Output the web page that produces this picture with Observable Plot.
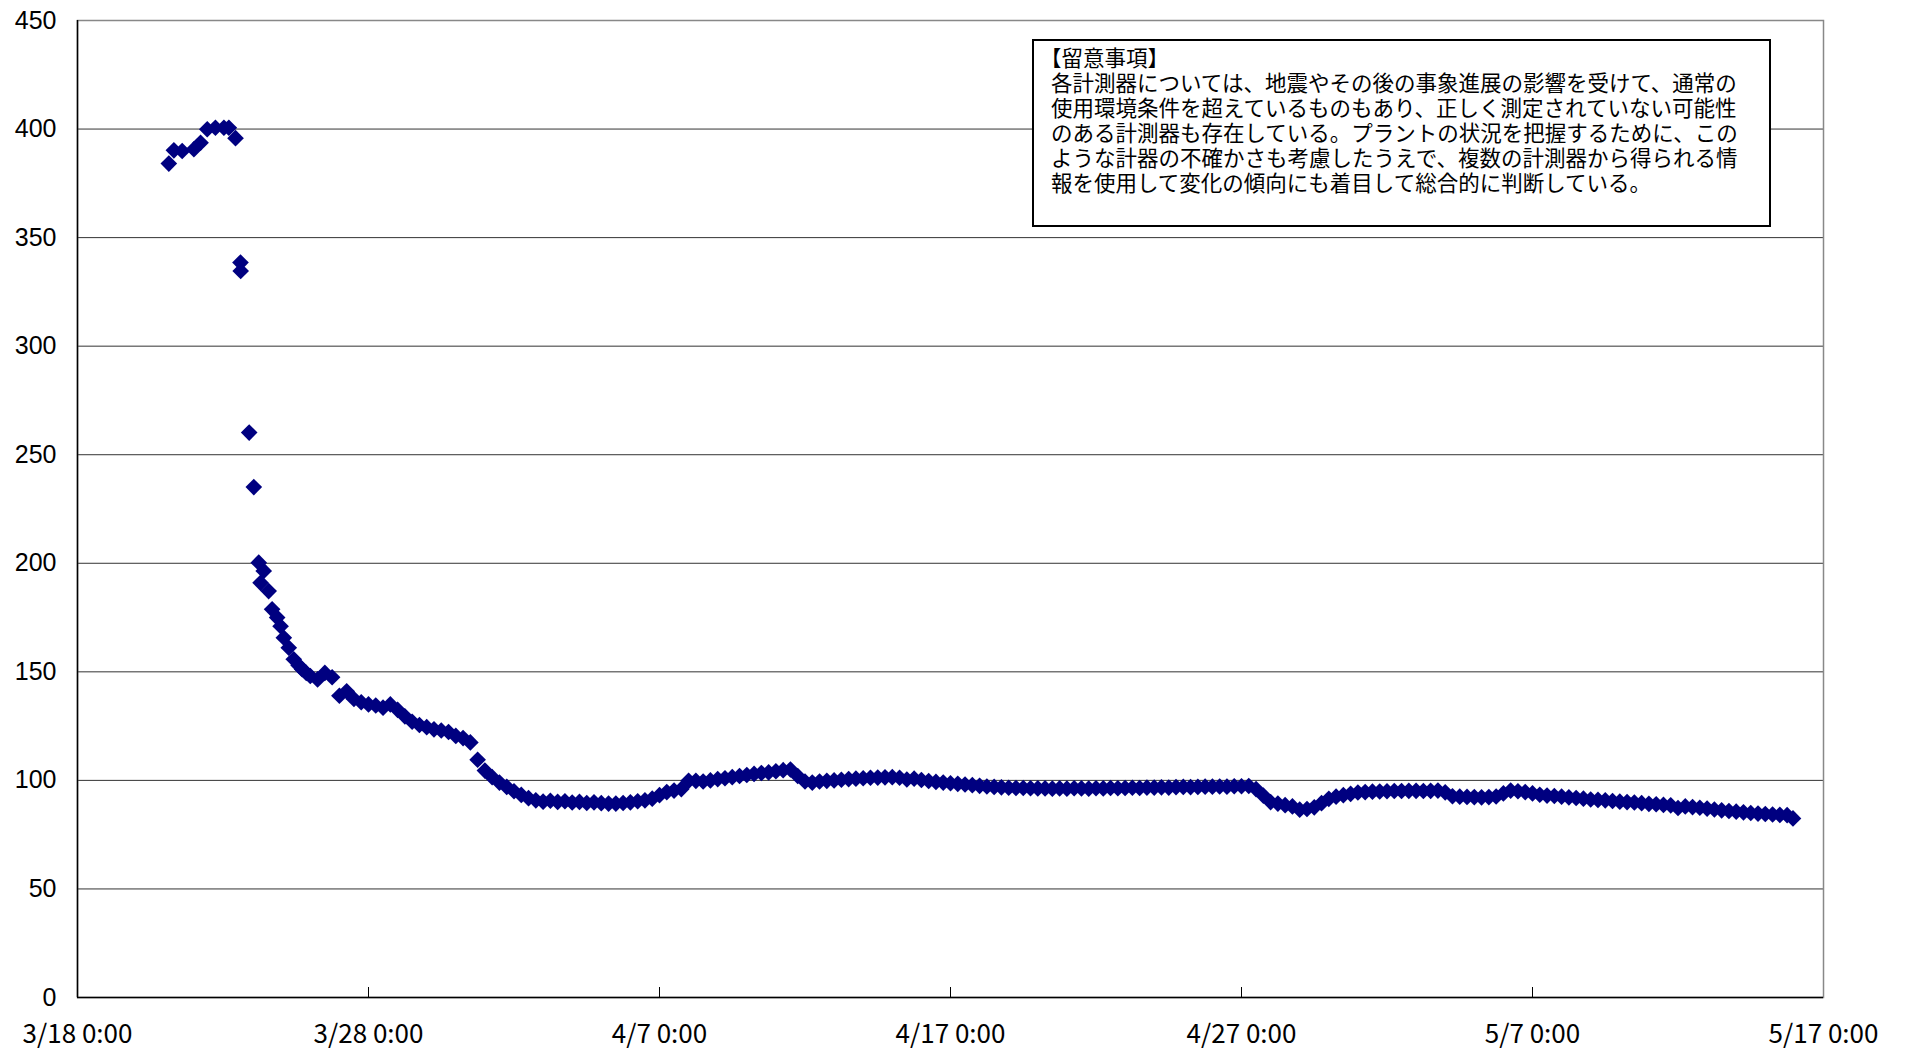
<!DOCTYPE html>
<html>
<head>
<meta charset="utf-8">
<script src="https://cdn.jsdelivr.net/npm/d3@7"></script>
<script src="https://cdn.jsdelivr.net/npm/@observablehq/plot@0.6"></script>
<style>
  html, body { margin: 0; padding: 0; background: #fff; }
  #wrap { position: relative; width: 1908px; height: 1051px; overflow: hidden; }
  #note {
    position: absolute; left: 1032px; top: 39px; width: 735px; height: 184px;
    border: 2px solid #000; background: #fff; box-sizing: content-box;
    font-family: "Noto Sans CJK JP", sans-serif; font-size: 21.5px; line-height: 25px;
    color: #000;
  }
  #note .text { position: absolute; left: 17px; top: 3px; white-space: pre; text-indent: -11px; }
</style>
</head>
<body>
<div id="wrap">
  <div id="chart"></div>
  <div id="note"><div class="text"></div></div>
</div>
<script>
// ---- data ----
const noteTitle = "【留意事項】";
const noteLines = [
  "各計測器については、地震やその後の事象進展の影響を受けて、通常の",
  "使用環境条件を超えているものもあり、正しく測定されていない可能性",
  "のある計測器も存在している。プラントの状況を把握するために、この",
  "ような計器の不確かさも考慮したうえで、複数の計測器から得られる情",
  "報を使用して変化の傾向にも着目して総合的に判断している。"
];

const xTickDates = ["2011-03-18", "2011-03-28", "2011-04-07", "2011-04-17", "2011-04-27", "2011-05-07", "2011-05-17"];
const xTickLabels = ["3/18 0:00", "3/28 0:00", "4/7 0:00", "4/17 0:00", "4/27 0:00", "5/7 0:00", "5/17 0:00"];
const yTicks = [0, 50, 100, 150, 200, 250, 300, 350, 400, 450];

// sparse early readings
const earlyTimes = [
  "2011-03-21T03:20", "2011-03-21T07:30", "2011-03-21T14:20", "2011-03-22T00:00",
  "2011-03-22T05:30", "2011-03-22T11:00", "2011-03-22T17:45", "2011-03-23T00:45",
  "2011-03-23T04:50", "2011-03-23T10:20", "2011-03-23T14:25", "2011-03-23T14:35",
  "2011-03-23T21:35", "2011-03-24T01:25", "2011-03-24T05:30", "2011-03-24T07:00",
  "2011-03-24T09:35", "2011-03-24T13:40", "2011-03-24T16:30", "2011-03-24T20:40",
  "2011-03-24T23:30", "2011-03-25T02:10", "2011-03-25T06:15", "2011-03-25T10:20",
  "2011-03-25T14:20", "2011-03-25T17:15", "2011-03-25T20:40"
];
const earlyValues = [
  384.1, 390.2, 389.9, 390.7,
  393.7, 399.9, 400.6, 400.6,
  400.6, 395.8, 338.5, 334.6,
  260.2, 235.1, 200.3, 191,
  196.5, 187.2, 178.8, 175,
  171, 165.7, 161.1, 155.8,
  153, 151.2, 149.5
];

// readings every 6 hours from 3/26 0:00
const regularStart = "2011-03-26T00:00";
const regularStepHours = 6;
const regularValues = [
  148.1, 146.5, 149.5, 147.5,  // 3/26
  139, 141, 137.5, 136,        // 3/27
  135, 134.5, 133.5, 135,      // 3/28
  132.5, 129.5, 127, 125.5,    // 3/29
  124.5, 123.5, 123, 122.3,    // 3/30
  120.5, 119.5, 117.5, 109.5,  // 3/31
  104.5, 101.5, 99, 97,        // 4/1
  95, 93.3, 91.8, 90.8,        // 4/2
  90.2, 90.6, 90.1, 90.4,      // 4/3
  89.8, 90.1, 89.6, 89.9,      // 4/4
  89.5, 89.3, 89.3, 89.6,      // 4/5
  89.9, 90.4, 90.8, 91.6,      // 4/6
  93.2, 94.6, 95.3, 96,        // 4/7
  99.8, 99.8, 99.5, 100,       // 4/8
  100.6, 101, 101.5, 102,      // 4/9
  102.5, 103, 103.4, 103.7,    // 4/10
  104.2, 104.7, 105, 102,      // 4/11
  99.5, 99, 99.5, 99.8,        // 4/12
  100, 100.3, 100.6, 100.8,    // 4/13
  101, 101.2, 101.3, 101.4,    // 4/14
  101.5, 101.2, 100.4, 100.8,  // 4/15
  100.2, 99.7, 99.3, 99,       // 4/16
  98.7, 98.4, 98.1, 97.8,      // 4/17
  97.5, 97.2, 97, 96.8,        // 4/18
  96.6, 96.5, 96.5, 96.4,      // 4/19
  96.3, 96.3, 96.2, 96.3,      // 4/20
  96.2, 96.4, 96.3, 96.2,      // 4/21
  96.4, 96.3, 96.5, 96.4,      // 4/22
  96.5, 96.6, 96.5, 96.7,      // 4/23
  96.7, 96.8, 96.7, 96.9,      // 4/24
  97, 96.9, 97, 97.1,          // 4/25
  97.1, 97.2, 97.1, 97.3,      // 4/26
  97.3, 97.4, 96, 93,          // 4/27
  90, 89.3, 88.6, 88,          // 4/28
  86.5, 86.8, 87.6, 89.5,      // 4/29
  91.5, 92.5, 93.2, 93.8,      // 4/30
  94.4, 94.6, 94.8, 94.9,      // 5/1
  95, 95.1, 95.1, 95.2,        // 5/2
  95.2, 95.1, 95.2, 95.3,      // 5/3
  94.5, 92.7, 92.5, 92.4,      // 5/4
  92.3, 92.2, 92.3, 92.6,      // 5/5
  94, 95.3, 95, 94.6,          // 5/6
  94, 93.4, 93, 92.8,          // 5/7
  92.5, 92.2, 91.9, 91.6,      // 5/8
  91.2, 91, 90.8, 90.5,        // 5/9
  90.2, 90, 89.8, 89.5,        // 5/10
  89.2, 89, 88.7, 88.5,        // 5/11
  87.3, 88, 87.7, 87.4,        // 5/12
  87, 86.6, 86.2, 85.9,        // 5/13
  85.6, 85.3, 85, 84.7,        // 5/14
  84.5, 84.3, 84.1, 84         // 5/15
];
const lateTimes = ["2011-05-15T22:50"];
const lateValues = [82.5];

// ---- build table ----
const utc = s => new Date(s + (s.length === 10 ? "T00:00Z" : "Z"));
const points = [];
earlyTimes.forEach((t, i) => points.push({t: utc(t), v: earlyValues[i]}));
const startMs = +utc(regularStart);
regularValues.forEach((v, i) => points.push({t: new Date(startMs + i * regularStepHours * 3600e3), v}));
lateTimes.forEach((t, i) => points.push({t: utc(t), v: lateValues[i]}));

const xTicks = xTickDates.map(utc);
const labelMap = new Map(xTicks.map((d, i) => [+d, xTickLabels[i]]));

const chart = Plot.plot({
  width: 1908,
  height: 1051,
  marginLeft: 77,
  marginRight: 85,
  marginTop: 20,
  marginBottom: 54,
  style: {background: "#fff", color: "#000", overflow: "visible"},
  x: {type: "utc", domain: [xTicks[0], xTicks[xTicks.length - 1]]},
  y: {domain: [0, 450]},
  marks: [
    Plot.gridY(yTicks.filter(v => v > 0), {stroke: "#333", strokeOpacity: 1, strokeWidth: 1}),
    Plot.frame({stroke: "#888", strokeWidth: 1.5}),
    Plot.ruleY([0], {stroke: "#000", strokeWidth: 1.5}),
    Plot.ruleX([xTicks[0]], {stroke: "#000", strokeWidth: 1.5}),
    Plot.ruleX(xTicks.slice(1, -1), {y1: 0, y2: 0, insetTop: -10, stroke: "#000", strokeWidth: 1}),
    Plot.axisY({ticks: yTicks, tickSize: 0, tickPadding: 21, fontSize: 25,
      fontFamily: "'Liberation Sans', Arial, sans-serif", label: null}),
    Plot.axisX({ticks: xTicks, tickSize: 0, tickPadding: 27, fontSize: 26,
      fontFamily: "'Noto Sans CJK JP', sans-serif", label: null,
      tickFormat: d => labelMap.get(+d)}),
    Plot.dot(points, {x: "t", y: "v", symbol: "diamond2", r: 7.5, fill: "#000080", stroke: "none"})
  ]
});
document.getElementById("chart").appendChild(chart);
document.querySelector("#note .text").textContent = [noteTitle, ...noteLines].join("\n");
</script>
</body>
</html>
